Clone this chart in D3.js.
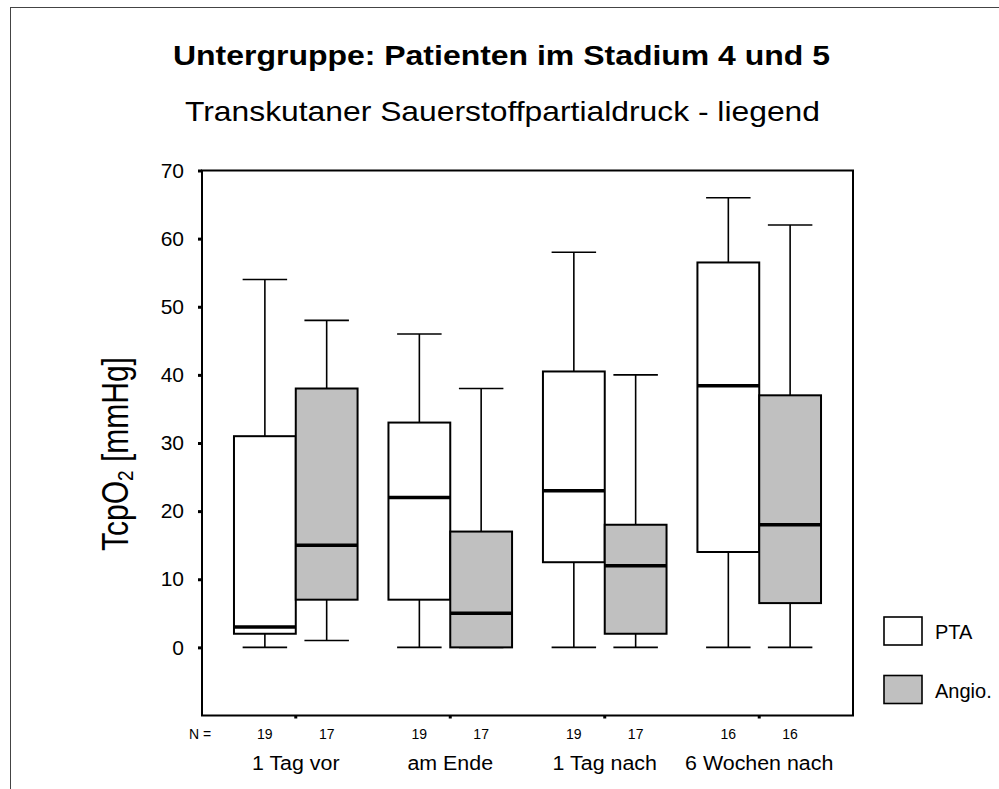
<!DOCTYPE html>
<html>
<head>
<meta charset="utf-8">
<script src="https://cdn.jsdelivr.net/npm/d3@7.9.0/dist/d3.min.js"></script>
<style>
  body { margin: 0; background: #fff; }
  svg { display: block; font-family: "Liberation Sans", Arial, sans-serif; }
</style>
</head>
<body>
<svg id="chart" width="999" height="789"></svg>
<script>
// time points and groups
const timepoints = ['1 Tag vor', 'am Ende', '1 Tag nach', '6 Wochen nach'];
const groups = ['PTA', 'Angio.'];
const groupFill = ['#ffffff', '#c0c0c0'];

// box statistics per time point (min, q1, median, q3, max)
const ptaMin = [0, 0, 0, 0];
const ptaQ1 = [2, 7, 12.5, 14];
const ptaMedian = [3, 22, 23, 38.4];
const ptaQ3 = [31, 33, 40.5, 56.5];
const ptaMax = [54, 46, 58, 66];
const ptaN = [19, 19, 19, 16];

const angioMin = [1, 0, 0, 0];
const angioQ1 = [7, 0, 2, 6.5];
const angioMedian = [15, 5, 12, 18];
const angioQ3 = [38, 17, 18, 37];
const angioMax = [48, 38, 40, 62];
const angioN = [17, 17, 17, 16];

const yTicks = [0, 10, 20, 30, 40, 50, 60, 70];

// build box rows from the arrays
const boxes = [];
timepoints.forEach((t, i) => {
  boxes.push({ t, g: 0, min: ptaMin[i], q1: ptaQ1[i], med: ptaMedian[i], q3: ptaQ3[i], max: ptaMax[i], n: ptaN[i] });
  boxes.push({ t, g: 1, min: angioMin[i], q1: angioQ1[i], med: angioMedian[i], q3: angioQ3[i], max: angioMax[i], n: angioN[i] });
});

const svg = d3.select('#chart');

// outer frame (right/bottom edges fall outside the picture)
svg.append('rect')
  .attr('x', 10.5).attr('y', 7.5)
  .attr('width', 1100).attr('height', 900)
  .attr('fill', 'none').attr('stroke', '#444').attr('stroke-width', 1);

// titles (the original is a bit wider than its font, so stretch to fit)
svg.append('text')
  .attr('x', 173).attr('y', 65)
  .attr('font-size', 28).attr('font-weight', 'bold')
  .attr('textLength', 657).attr('lengthAdjust', 'spacingAndGlyphs')
  .text('Untergruppe: Patienten im Stadium 4 und 5');

svg.append('text')
  .attr('x', 185).attr('y', 121)
  .attr('font-size', 28)
  .attr('textLength', 635).attr('lengthAdjust', 'spacingAndGlyphs')
  .text('Transkutaner Sauerstoffpartialdruck - liegend');

const plot = { left: 202, right: 853, top: 170.5, bottom: 715.5 };

const x = d3.scaleBand()
  .domain(timepoints)
  .range([plot.left, plot.right])
  .paddingInner(0)
  .paddingOuter(0.107);

const y = d3.scaleLinear()
  .domain([-10, 70])
  .range([plot.bottom, plot.top]);

const boxW = x.bandwidth() * 0.4;
const capW = boxW * 0.72;
const boxCenter = (d) => x(d.t) + x.bandwidth() / 2 + (d.g === 0 ? -boxW / 2 : boxW / 2);

// plot frame
svg.append('rect')
  .attr('x', plot.left).attr('y', plot.top)
  .attr('width', plot.right - plot.left).attr('height', plot.bottom - plot.top)
  .attr('fill', 'none').attr('stroke', '#000').attr('stroke-width', 2);

// y axis
const yAxis = svg.append('g')
  .attr('transform', `translate(${plot.left},0)`)
  .call(d3.axisLeft(y).tickValues(yTicks).tickSize(4).tickPadding(14));
yAxis.select('.domain').remove();
yAxis.selectAll('.tick line').attr('stroke-width', 3);
yAxis.selectAll('.tick text')
  .attr('font-size', 21)
  .attr('font-family', '"Liberation Sans", Arial, sans-serif')
  .attr('fill', '#000');

// x axis with category labels
const xAxis = svg.append('g')
  .attr('transform', `translate(0,${plot.bottom})`)
  .call(d3.axisBottom(x).tickSize(3).tickPadding(37));
xAxis.select('.domain').remove();
xAxis.selectAll('.tick line').attr('stroke-width', 3);
xAxis.selectAll('.tick text')
  .attr('font-size', 20)
  .attr('transform', 'scale(1.07,1)')
  .attr('font-family', '"Liberation Sans", Arial, sans-serif')
  .attr('fill', '#000');

// y axis title
svg.append('text')
  .attr('transform', 'translate(128,454) rotate(-90) scale(1,1.2)')
  .attr('text-anchor', 'middle')
  .attr('font-size', 30)
  .call((t) => {
    t.append('tspan').text('TcpO');
    t.append('tspan').attr('font-size', 19).attr('dy', 4).text('2');
    t.append('tspan').attr('dy', -4).text(' [mmHg]');
  });

// N row
svg.append('text')
  .attr('x', 189).attr('y', 739)
  .attr('font-size', 14)
  .text('N =');

svg.selectAll('.nlabel')
  .data(boxes)
  .join('text')
  .attr('class', 'nlabel')
  .attr('x', boxCenter)
  .attr('y', 739)
  .attr('text-anchor', 'middle')
  .attr('font-size', 14)
  .text((d) => d.n);

// boxes
const box = svg.selectAll('.box')
  .data(boxes)
  .join('g')
  .attr('class', 'box');

// whiskers
box.append('line')
  .attr('x1', boxCenter).attr('x2', boxCenter)
  .attr('y1', (d) => y(d.max)).attr('y2', (d) => y(d.q3))
  .attr('stroke', '#000').attr('stroke-width', 1.6);
box.append('line')
  .attr('x1', boxCenter).attr('x2', boxCenter)
  .attr('y1', (d) => y(d.q1)).attr('y2', (d) => y(d.min))
  .attr('stroke', '#000').attr('stroke-width', 1.6);
box.append('line')
  .attr('x1', (d) => boxCenter(d) - capW / 2).attr('x2', (d) => boxCenter(d) + capW / 2)
  .attr('y1', (d) => y(d.max)).attr('y2', (d) => y(d.max))
  .attr('stroke', '#000').attr('stroke-width', 1.6);
box.append('line')
  .attr('x1', (d) => boxCenter(d) - capW / 2).attr('x2', (d) => boxCenter(d) + capW / 2)
  .attr('y1', (d) => y(d.min)).attr('y2', (d) => y(d.min))
  .attr('stroke', '#000').attr('stroke-width', 1.6);

box.append('rect')
  .attr('x', (d) => boxCenter(d) - boxW / 2)
  .attr('y', (d) => y(d.q3))
  .attr('width', boxW)
  .attr('height', (d) => y(d.q1) - y(d.q3))
  .attr('fill', (d) => groupFill[d.g])
  .attr('stroke', '#000').attr('stroke-width', 2);

// median
box.append('line')
  .attr('x1', (d) => boxCenter(d) - boxW / 2).attr('x2', (d) => boxCenter(d) + boxW / 2)
  .attr('y1', (d) => y(d.med)).attr('y2', (d) => y(d.med))
  .attr('stroke', '#000').attr('stroke-width', 3.5);

// legend
const legend = svg.selectAll('.legend')
  .data(groups)
  .join('g')
  .attr('class', 'legend')
  .attr('transform', (d, i) => `translate(884,${617 + i * 58.5})`);

legend.append('rect')
  .attr('width', 38).attr('height', 28)
  .attr('fill', (d, i) => groupFill[i])
  .attr('stroke', '#000').attr('stroke-width', 1.6);

legend.append('text')
  .attr('x', 51).attr('y', 22)
  .attr('font-size', 20)
  .text((d) => d);
</script>
</body>
</html>
